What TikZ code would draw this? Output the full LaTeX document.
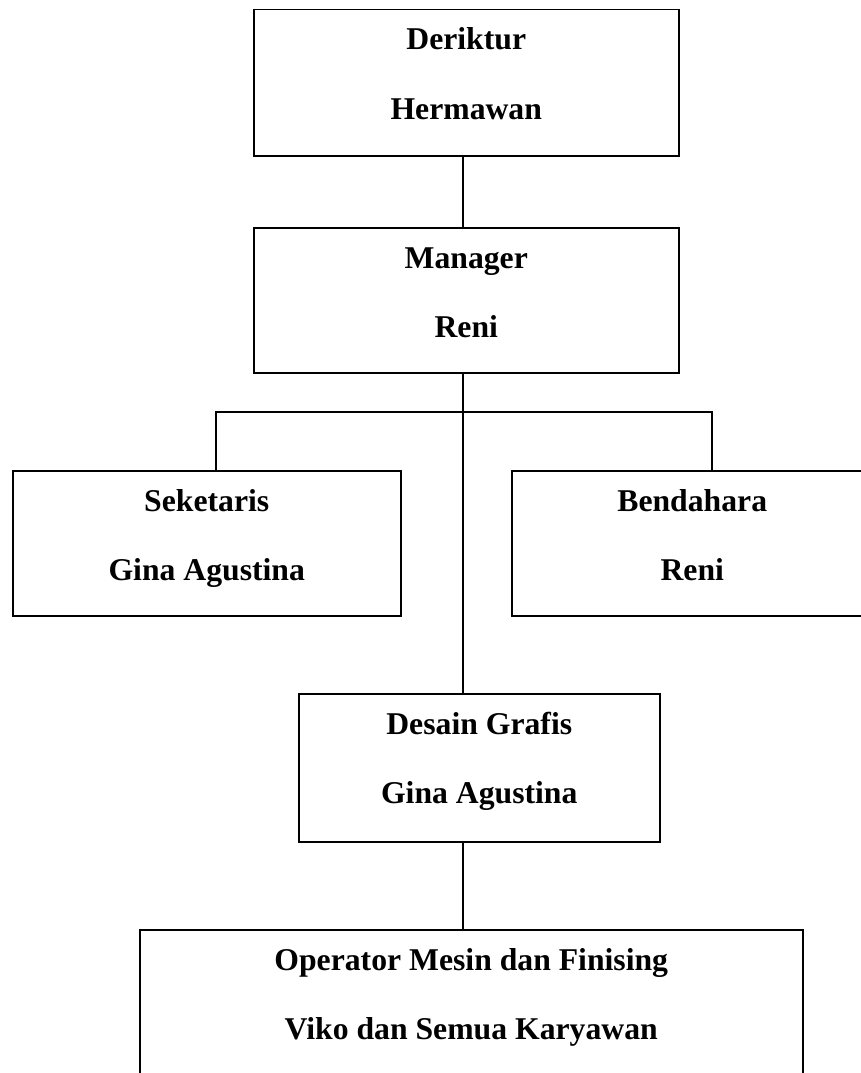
\documentclass[tikz,border=0pt]{standalone}
\usepackage{fontspec}
\setmainfont{Liberation Serif}
\usetikzlibrary{calc}
\begin{document}
\begin{tikzpicture}[x=1pt,y=-1pt,
  box/.style={draw=black,line width=1.5pt,rectangle,inner sep=0pt,anchor=north west},
  lbl/.style={anchor=base,inner sep=0pt,font=\bfseries\fontsize{31.7}{38}\selectfont},
  conn/.style={draw=black,line width=1.5pt}]
\useasboundingbox (0,0) rectangle (860,1073);
% boxes
\node[box,minimum width=425pt,minimum height=146pt] (dir) at (253,9) {};
\node[box,minimum width=425pt,minimum height=145pt] (man) at (253,227) {};
\node[box,minimum width=388pt,minimum height=145pt] (sek) at (12,470) {};
\node[box,minimum width=361pt,minimum height=145pt] (ben) at (511,470) {};
\node[box,minimum width=361pt,minimum height=148pt] (des) at (298,693) {};
\node[box,minimum width=663pt,minimum height=170pt] (ope) at (139,929) {};
% texts
\node[lbl] (dirA) at ($(dir.north)+(0,41)$) {Deriktur};
\node[lbl] (dirB) at ($(dir.north)+(0,110)$) {Hermawan};
\node[lbl] (manA) at ($(man.north)+(0,41)$) {Manager};
\node[lbl] (manB) at ($(man.north)+(0,110)$) {Reni};
\node[lbl] (sekA) at ($(sek.north)+(0,41)$) {Seketaris};
\node[lbl] (sekB) at ($(sek.north)+(0,110)$) {Gina Agustina};
\node[lbl] (benA) at ($(ben.north)+(0,41)$) {Bendahara};
\node[lbl] (benB) at ($(ben.north)+(0,110)$) {Reni};
\node[lbl] (desA) at ($(des.north)+(0,41)$) {Desain Grafis};
\node[lbl] (desB) at ($(des.north)+(0,110)$) {Gina Agustina};
\node[lbl] (opeA) at ($(ope.north)+(0,41)$) {Operator Mesin dan Finising};
\node[lbl] (opeB) at ($(ope.north)+(0,110)$) {Viko dan Semua Karyawan};
% connector guides
\coordinate (spine) at (463,0);
\coordinate (jl) at (216,412);
\coordinate (jr) at (712,412);
% connectors
\draw[conn] (dir.south -| spine) -- (man.north -| spine);
\draw[conn] (man.south -| spine) -- (des.north -| spine);
\draw[conn] (sek.north -| jl) -- (jl) -- (jr) -- (ben.north -| jr);
\draw[conn] (des.south -| spine) -- (ope.north -| spine);
\end{tikzpicture}
\end{document}
